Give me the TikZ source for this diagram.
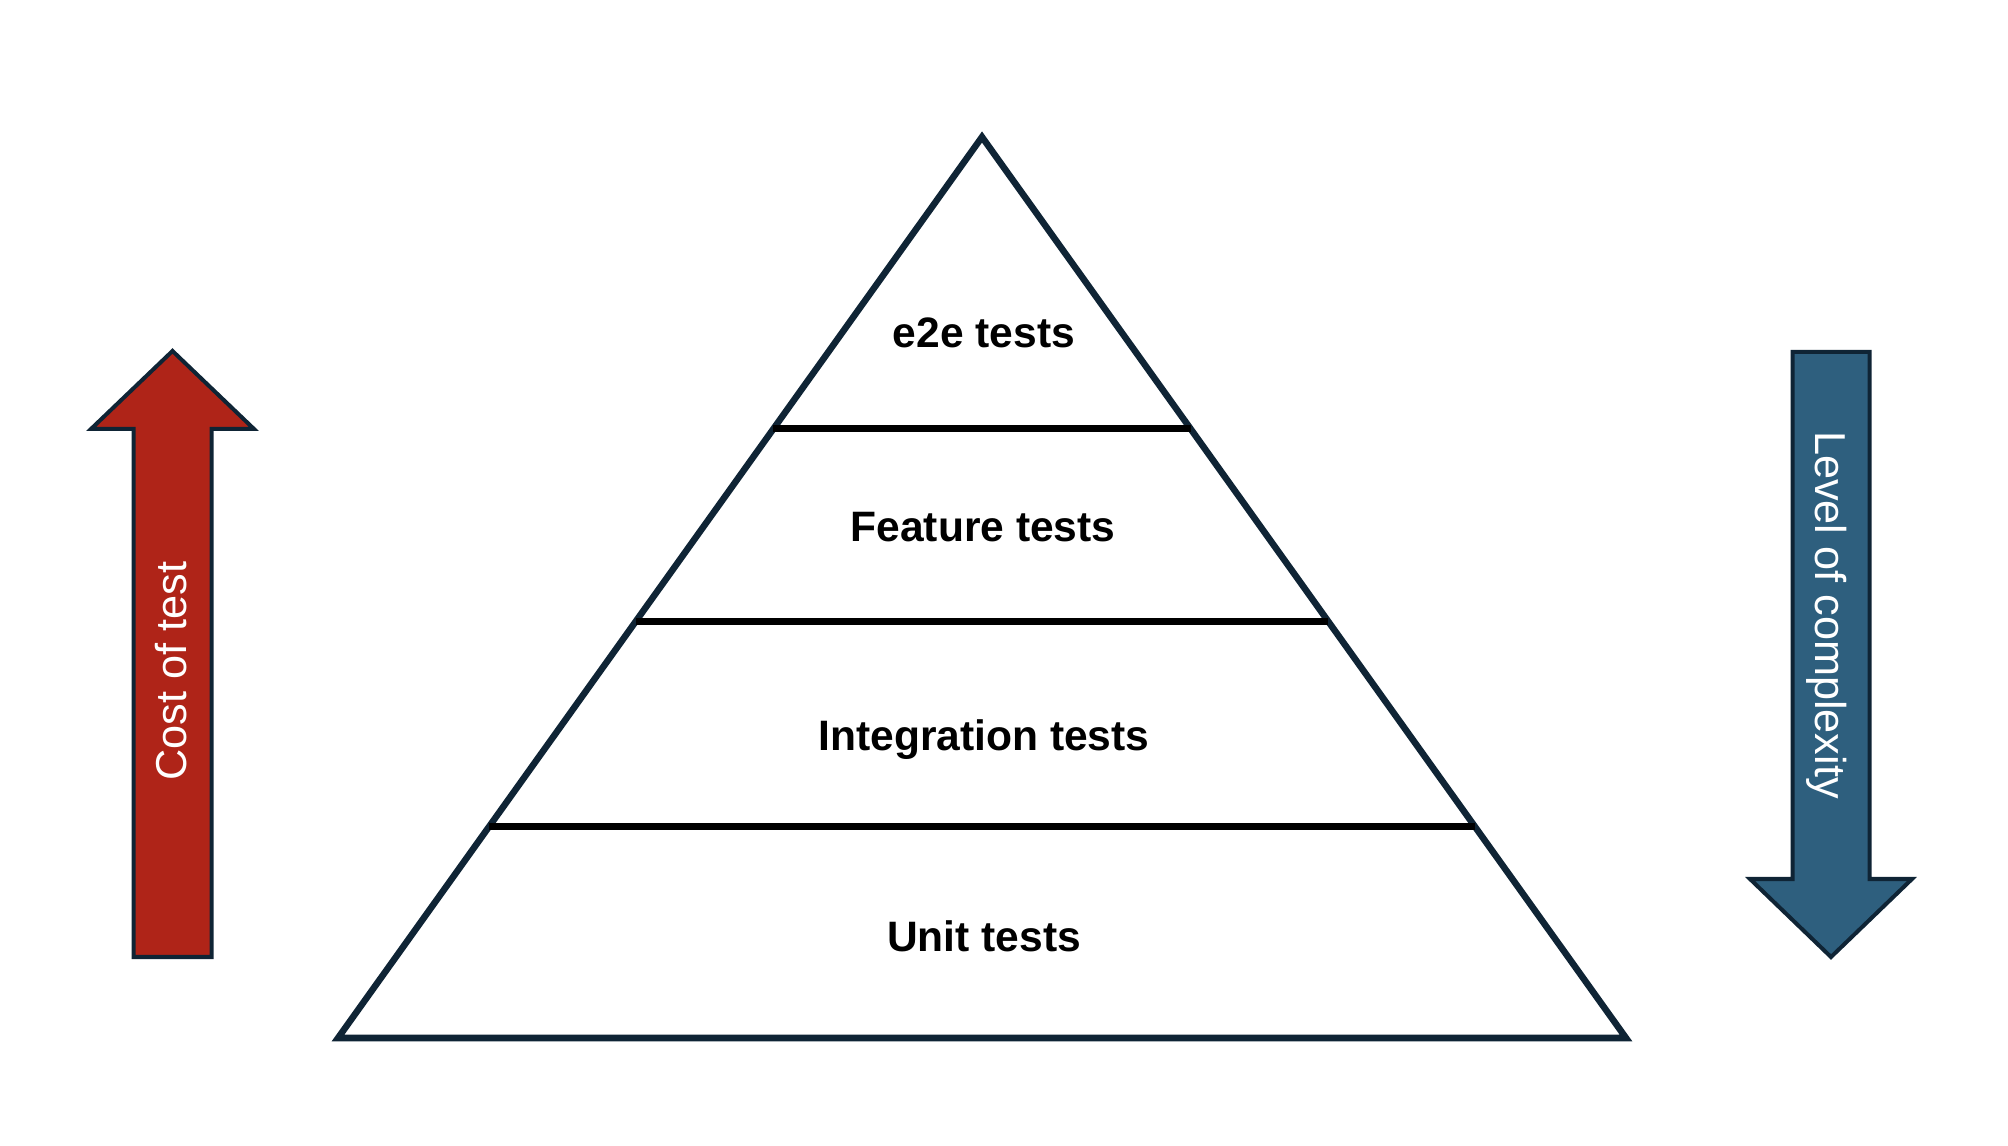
\documentclass[tikz,border=0pt]{standalone}
\usepackage{fontspec}
\setmainfont{Liberation Sans}
\usetikzlibrary{calc}
\definecolor{navy}{HTML}{0F2435}
\definecolor{costred}{HTML}{AF2418}
\definecolor{cplxblue}{HTML}{2E5F7E}
\tikzset{
  pyr/.style={draw=navy, line width=0.065cm, line join=miter, fill=white},
  divider/.style={draw=black, line width=0.07cm},
  layerlabel/.style={anchor=base, inner sep=0pt, font=\fontsize{12.1}{14}\selectfont\bfseries, text=black},
  arrowbody/.style={draw=navy, line width=0.04cm, line join=miter},
  arrowlabel/.style={anchor=base, inner sep=0pt, font=\fontsize{12.3}{14}\selectfont, text=white}
}
\begin{document}
\begin{tikzpicture}[x=0.01cm, y=-0.01cm]
\useasboundingbox (0,0) rectangle (2008,1146);
% pyramid
\coordinate (apex) at (982,137);
\coordinate (bl) at (338,1038);
\coordinate (br) at (1626,1038);
\draw[pyr] (apex) -- (br) -- (bl) -- cycle;
% dividers
\coordinate (d1l) at ($(bl)!0.676!(apex)$);
\coordinate (d1r) at ($(br)!0.676!(apex)$);
\coordinate (d2l) at ($(bl)!0.462!(apex)$);
\coordinate (d2r) at ($(br)!0.462!(apex)$);
\coordinate (d3l) at ($(bl)!0.2345!(apex)$);
\coordinate (d3r) at ($(br)!0.2345!(apex)$);
\draw[divider] (d1l) -- (d1r);
\draw[divider] (d2l) -- (d2r);
\draw[divider] (d3l) -- (d3r);
% labels
\node[layerlabel] (e2e) at (984,348) {e2e tests};
\node[layerlabel] (feature) at (983,542) {Feature tests};
\node[layerlabel] (integration) at (984,751) {Integration tests};
\node[layerlabel] (unit) at (984,952) {Unit tests};
% cost arrow
\draw[arrowbody, fill=costred] (172.5,351) -- (91,429) -- (133.5,429) -- (133.5,957) -- (211.5,957) -- (211.5,429) -- (254,429) -- cycle;
\node[arrowlabel, rotate=90] (cost) at (186.5,671) {Cost of test};
% complexity arrow
\draw[arrowbody, fill=cplxblue] (1792.5,352) -- (1869.5,352) -- (1869.5,879) -- (1912,879) -- (1831,957) -- (1750,879) -- (1792.5,879) -- cycle;
\node[arrowlabel, rotate=-90] (complexity) at (1815,615) {Level of complexity};
\end{tikzpicture}
\end{document}
